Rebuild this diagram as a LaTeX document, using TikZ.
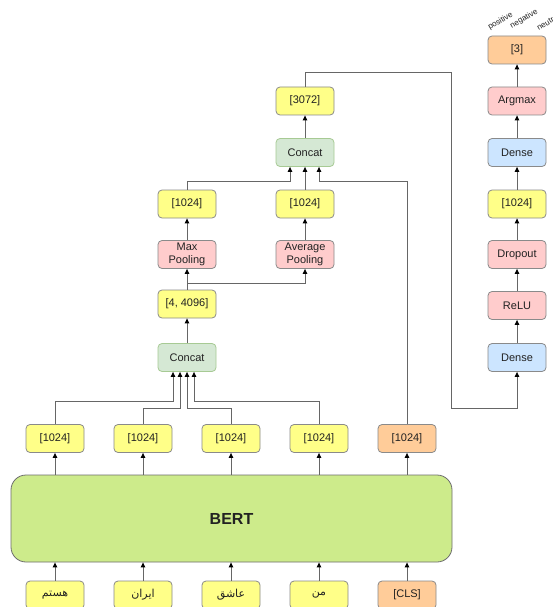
\documentclass[tikz,border=0pt]{standalone}
\usepackage{fontspec}
\setmainfont{Liberation Sans}
\newfontfamily\arabicfont[Script=Arabic]{DejaVu Sans}
\TeXXeTstate=1
\usetikzlibrary{arrows.meta,calc}
\definecolor{yel}{HTML}{FFFF88}
\definecolor{pnk}{HTML}{FFCCCC}
\definecolor{blu}{HTML}{CCE5FF}
\definecolor{grn}{HTML}{D5E8D4}
\definecolor{grnb}{HTML}{82B366}
\definecolor{org}{HTML}{FFCC99}
\definecolor{bertc}{HTML}{CDEB8B}
\definecolor{strk}{HTML}{8A8A8A}
\definecolor{txt}{HTML}{222222}
\tikzset{
  box/.style={rounded corners=4pt, draw=strk, line width=0.8pt, minimum width=58pt, minimum height=28pt,
    inner sep=1pt, align=center, text=txt, font=\fontsize{11}{12.5}\selectfont},
  ybox/.style={box, fill=yel},
  pbox/.style={box, fill=pnk},
  bbox/.style={box, fill=blu},
  obox/.style={box, fill=org},
  gbox/.style={box, fill=grn, draw=grnb!70},
  arr/.style={draw=black!60, line width=0.9pt, -{Triangle[length=5pt,width=4.5pt,color=black]}},
  lbl/.style={font=\fontsize{8}{9}\selectfont, text=txt, rotate=30, inner sep=0pt}
}
\begin{document}
\begin{tikzpicture}[x=1pt,y=-1pt]
\useasboundingbox[fill=white] (0,0) rectangle (553,607);
\begin{scope}
\clip (0,0) rectangle (553,607);
% tokens
\node[ybox] (t1) at (55,595) {\arabicfont\beginR هستم\endR};
\node[ybox] (t2) at (143,595) {\arabicfont\beginR ایران\endR};
\node[ybox] (t3) at (231,595) {\arabicfont\beginR عاشق\endR};
\node[ybox] (t4) at (319,595) {\arabicfont\beginR من\endR};
\node[obox] (t5) at (407,595) {[CLS]};
% BERT
\node[draw=strk!80!black, line width=0.8pt, fill=bertc, rounded corners=15pt, minimum width=441pt, minimum height=87pt,
  font=\fontsize{16}{18}\selectfont\bfseries, text=txt] (bert) at (231.5,518.5) {BERT};
% hidden outputs
\node[ybox] (h1) at (55,438.5) {[1024]};
\node[ybox] (h2) at (143,438.5) {[1024]};
\node[ybox] (h3) at (231,438.5) {[1024]};
\node[ybox] (h4) at (319,438.5) {[1024]};
\node[obox] (h5) at (407,438.5) {[1024]};
% middle
\node[gbox] (c1) at (187,357.5) {Concat};
\node[ybox] (s1) at (187,304) {[4, 4096]};
\node[pbox] (mp) at (187,254.5) {Max\\Pooling};
\node[pbox] (ap) at (305,254.5) {Average\\Pooling};
\node[ybox] (m1) at (187,204) {[1024]};
\node[ybox] (a1) at (305,204) {[1024]};
\node[gbox] (c2) at (305,152.5) {Concat};
\node[ybox] (v1) at (305,101) {[3072]};
% right column
\node[obox] (o3) at (517,50) {[3]};
\node[pbox] (am) at (517,101) {Argmax};
\node[bbox] (d2) at (517,152.5) {Dense};
\node[ybox] (r1) at (517,204) {[1024]};
\node[pbox] (dr) at (517,254.5) {Dropout};
\node[pbox] (rl) at (517,305.5) {ReLU};
\node[bbox] (d1) at (517,357.5) {Dense};
% class labels
\node[lbl] (lp) at (500.5,21) {positive};
\node[lbl] (ln) at (524,19) {negative};
\node[lbl] (lu) at (548,22) {neutral};
% connectors tokens -> BERT
\foreach \t in {t1,t2,t3,t4,t5}{
  \draw[arr] (\t.north) -- (bert.south -| \t.north);
}
\foreach \h in {h1,h2,h3,h4,h5}{
  \draw[arr] (bert.north -| \h.south) -- (\h.south);
}
% into lower concat
\draw[arr] (h1.north) |- ([xshift=-14pt,yshift=-30pt]c1.south) -- ([xshift=-14pt]c1.south);
\draw[arr] (h2.north) |- ([xshift=-7pt,yshift=-37pt]c1.south) -- ([xshift=-7pt]c1.south);
\draw[arr] (h3.north) |- ([yshift=-37pt]c1.south) -- (c1.south);
\draw[arr] (h4.north) |- ([xshift=7pt,yshift=-30pt]c1.south) -- ([xshift=7pt]c1.south);
% middle chain
\draw[arr] (c1.north) -- (s1.south);
\draw[arr] (s1.north) -- (mp.south);
\draw[arr] ([yshift=6pt]s1.north) -| (ap.south);
\draw[arr] (mp.north) -- (m1.south);
\draw[arr] (ap.north) -- (a1.south);
\draw[arr] (m1.north) |- ([xshift=-15pt,yshift=-15pt]c2.south) -- ([xshift=-15pt]c2.south);
\draw[arr] (a1.north) -- (c2.south);
\draw[arr] (h5.north) |- ([xshift=14pt,yshift=-15pt]c2.south) -- ([xshift=14pt]c2.south);
\draw[arr] (c2.north) -- (v1.south);
% to right column
\coordinate (k1) at (451,72);
\coordinate (k2) at (451,408);
\draw[arr] (v1.north) |- (k1) -- (k2) -| (d1.south);
\draw[arr] (d1.north) -- (rl.south);
\draw[arr] (rl.north) -- (dr.south);
\draw[arr] (dr.north) -- (r1.south);
\draw[arr] (r1.north) -- (d2.south);
\draw[arr] (d2.north) -- (am.south);
\draw[arr] (am.north) -- (o3.south);
\end{scope}
\end{tikzpicture}
\end{document}
